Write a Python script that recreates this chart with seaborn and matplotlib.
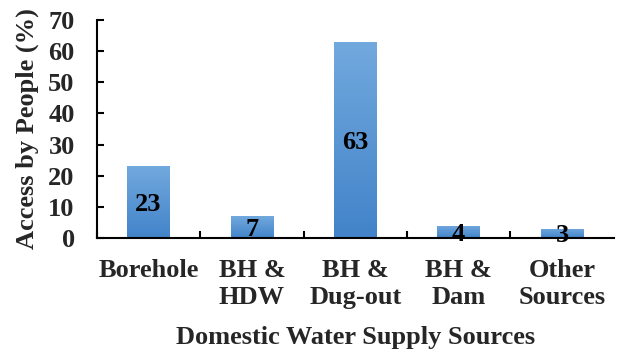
import numpy as np
import pandas as pd
import matplotlib
matplotlib.use("Agg")
import matplotlib.pyplot as plt
from matplotlib.colors import LinearSegmentedColormap
import seaborn as sns

categories = ["Borehole", "BH &\nHDW", "BH &\nDug-out", "BH &\nDam", "Other\nSources"]
access_pct = [23, 7, 63, 4, 3]

df = pd.DataFrame({"source": categories, "pct": access_pct})

sns.set_theme(style="white")
plt.rcParams["font.family"] = ["Liberation Serif", "DejaVu Serif"]
plt.rcParams["font.weight"] = "bold"

FS = 19

fig = plt.figure(figsize=(6.25, 3.56), dpi=100)
ax = fig.add_axes([0.155, 0.3315, 0.827, 0.6125])

sns.barplot(data=df, x="source", y="pct", ax=ax, color="#5b9bd5",
            width=0.41, saturation=1, edgecolor="none")

# vertical gradient fill on each bar: lighter at top, deeper at bottom
grad = LinearSegmentedColormap.from_list("bar", ["#4283c9", "#72a9de"])
ax.set_ylim(0, 70)
ax.set_xlim(-0.5, len(categories) - 0.5)
for p in ax.patches:
    x0, y0 = p.get_x(), p.get_y()
    w, h = p.get_width(), p.get_height()
    img = ax.imshow(np.linspace(0, 1, 256).reshape(-1, 1), cmap=grad,
                    origin="lower", aspect="auto",
                    extent=[x0, x0 + w, y0, y0 + h], zorder=p.get_zorder())
    img.set_clip_path(p)
    p.set_facecolor("none")
ax.set_xlim(-0.5, len(categories) - 0.5)
ax.set_ylim(0, 70)

# value labels centred in each bar
for i, v in enumerate(access_pct):
    ax.text(i, v / 2, str(v), ha="center", va="center_baseline",
            fontsize=FS, fontweight="bold", color="black", zorder=5)

ax.set_yticks(range(0, 71, 10))
ax.set_xticks(np.arange(len(categories)) - 0.5, minor=True)
ax.set_xticks(np.arange(len(categories)))
ax.set_xticklabels(categories, fontsize=FS, fontweight="bold", linespacing=1.25)
ax.tick_params(axis="x", which="major", length=0, pad=15)
ax.tick_params(axis="x", which="minor", direction="in", length=5, width=1.5,
               color="black", bottom=True)
ax.tick_params(axis="y", direction="in", length=5, width=1.5, color="black",
               left=True, pad=16, labelsize=FS)
for lbl in ax.get_yticklabels():
    lbl.set_fontweight("bold")

for s in ["top", "right"]:
    ax.spines[s].set_visible(False)
for s in ["left", "bottom"]:
    ax.spines[s].set_color("black")
    ax.spines[s].set_linewidth(1.5)

ax.set_xlabel("Domestic Water Supply Sources", fontsize=FS, fontweight="bold",
              labelpad=12)
ax.set_ylabel("Access by People (%)", fontsize=FS, fontweight="bold", labelpad=7)

fig.savefig("out.png", dpi=100)
